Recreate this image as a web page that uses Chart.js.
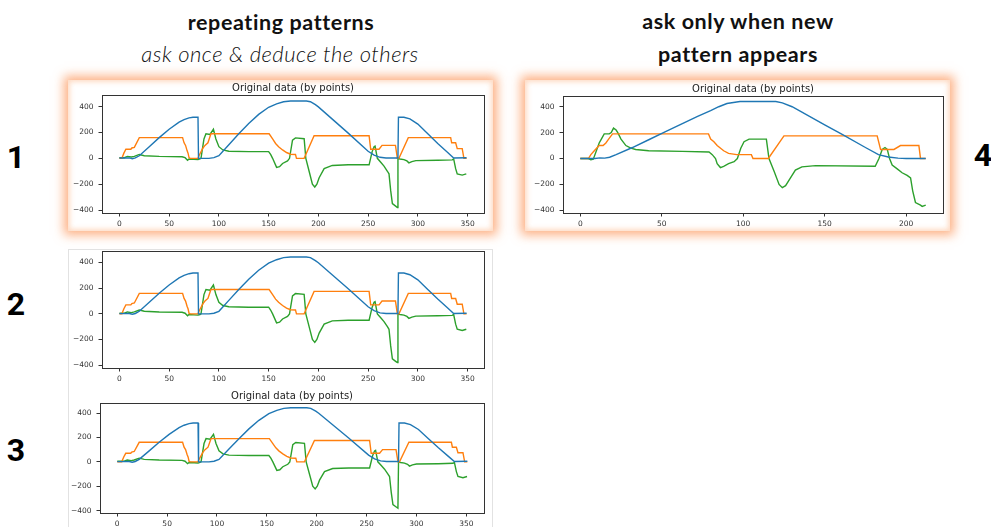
<!DOCTYPE html>
<html>
<head>
<meta charset="utf-8">
<script src="https://cdn.jsdelivr.net/npm/chart.js@4/dist/chart.umd.min.js"></script>
<style>
  html, body { margin: 0; padding: 0; background: #fff; width: 991px; height: 527px; overflow: hidden; position: relative; font-family: Lato, "Open Sans", sans-serif; }
  .h { position: absolute; color: #111; white-space: nowrap; transform: translate(-50%, -50%); line-height: 1; }
  .hb { font-weight: 700; font-size: 21.5px; letter-spacing: 0.6px; }
  .hi { font-weight: 300; font-style: italic; font-size: 22px; letter-spacing: 0.5px; }
  .num { position: absolute; font-family: Roboto, sans-serif; font-weight: 700; font-size: 32px; color: #000; transform: translate(-50%, -50%); line-height: 1; }
  .panel { position: absolute; background: #fff; box-shadow: 0 0 10px 4px rgba(252, 150, 90, 0.75), inset 0 0 5px 2px rgba(252, 175, 125, 0.45); }
  .sheet { position: absolute; border: 1px solid #e2e2e2; border-bottom: none; background: #fff; }
  canvas { position: absolute; }
</style>
</head>
<body>
<div class="h hb" style="left:281px;top:23px">repeating patterns</div>
<div class="h hi" style="left:280px;top:54px">ask once &amp; deduce the others</div>
<div class="h hb" style="left:738px;top:22px">ask only when new</div>
<div class="h hb" style="left:738px;top:55px">pattern appears</div>

<div class="num" style="left:16px;top:157px">1</div>
<div class="num" style="left:16px;top:304px">2</div>
<div class="num" style="left:16px;top:450px">3</div>
<div class="num" style="left:983px;top:155px">4</div>

<div class="panel" style="left:68px;top:80px;width:425px;height:151px"></div>
<div class="panel" style="left:525px;top:80px;width:425px;height:151px"></div>
<div class="sheet" style="left:68px;top:249px;width:423px;height:290px"></div>

<canvas id="c1"></canvas>
<canvas id="c2"></canvas>
<canvas id="c3"></canvas>
<canvas id="c4"></canvas>

<script>
// Recorded pattern A (points vs. value), shared by the repeated runs
const blueA = [[0,2],[10,3],[13,-3],[16,3],[20,20],[30,90],[40,160],[50,225],[60,280],[65,300],[70,313],[74,318],[79,318],[79.5,0],[90,0],[95,5],[100,20],[110,105],[120,190],[130,270],[140,340],[150,395],[158,422],[165,438],[172,443],[188,443],[192,438],[197,415],[200,398],[230,195],[250,55],[256,25],[262,8],[268,3],[280,3],[280.5,318],[286,318],[292,305],[300,265],[310,190],[320,115],[330,45],[336,3],[349,5]];
const orangeA = [[0,0],[2.5,0],[4.5,40],[6.5,70],[11.5,70],[12.5,80],[15,85],[20,160],[63.5,160],[65,120],[66.5,100],[68,60],[69,40],[70,5],[71,0],[79,0],[80,20],[84,80],[86,100],[89,120],[92,190],[150.5,190],[154,150],[157,115],[160,90],[164,65],[168,45],[172,32],[177,30],[178,0],[185.7,0],[195.7,175],[251,175],[252.6,70],[261,70],[264,100],[277.5,100],[279.4,0],[281,0],[290.4,160],[333,160],[334,120],[338,120],[339.6,75],[344.6,75],[346.3,0],[349,0]];
const greenA = [[0,5],[5,5],[8,15],[12,10],[15,15],[20,30],[25,20],[40,15],[63,12],[66,5],[68.5,-15],[70,-5],[75,-8],[79,-10],[81,-5],[82,0],[85,150],[87,190],[91,185],[94.5,225],[97,150],[100,90],[104,65],[110,55],[130,52],[150,52],[152,30],[154,0],[158,-70],[161,-65],[164,-40],[169,-20],[171,0],[174,140],[177,158],[185.7,152],[187.4,0],[190.7,-100],[194,-200],[196.4,-222],[198.5,-200],[200.8,-150],[205.8,-80],[214,-55],[230,-50],[251,-50],[254,50],[256,90],[257,95],[259.3,0],[262.7,-30],[266,-60],[269.4,-100],[271,-120],[272.7,-250],[274.4,-350],[277.7,-370],[279.4,-380],[280,0],[282,-5],[286,-10],[289,-20],[291,-35],[294,-25],[298,-18],[320,-15],[334.6,-12],[336,-5],[338,-80],[339.6,-120],[344.6,-130],[348.7,-120]];

// Recorded pattern B (the new pattern)
const blueB = [[0,0],[9,0],[12,5],[15,3],[18,10],[22,30],[32,85],[42,145],[52,205],[62,265],[72,325],[80,370],[85,400],[90,425],[98,440],[120,440],[124,430],[130,400],[150,260],[161,185],[175,85],[183,30],[189,12],[195,3],[200,0],[212,0]];
const orangeB = [[0,0],[5,0],[6.5,30],[8.6,60],[11.6,100],[14,100],[15.7,120],[17.4,150],[19.8,190],[78.7,190],[80,150],[82,130],[84,100],[88,60],[91,40],[96,30],[105,30],[106,0],[115.4,0],[125,175],[182.2,175],[184.3,70],[192.5,70],[196.5,100],[207.8,100],[208.8,0],[212,0]];
const greenB = [[0,0],[5,0],[6.5,-10],[8,-5],[11.6,120],[12.5,140],[14.7,190],[17.8,190],[19,200],[20.4,235],[22,220],[23,200],[25,150],[28,100],[31,80],[34,70],[42,60],[62.7,55],[79,50],[81,30],[83,0],[84,-40],[86,-70],[88,-60],[91,-40],[94.4,-25],[96.4,0],[98.5,80],[100.5,130],[103.6,150],[114.2,150],[115.8,0],[119,-100],[122,-200],[124,-225],[126,-210],[129,-150],[132,-90],[136,-65],[144.4,-55],[181,-60],[183.3,0],[185.3,70],[187,85],[188.4,70],[189.8,0],[191.4,-50],[194.5,-80],[197.5,-110],[200.6,-130],[202.7,-150],[204,-250],[205.7,-340],[208.8,-360],[209.8,-370],[212,-360]];

// Tick labels
const yTicks = [-400, -200, 0, 200, 400];
const xTicksA = [0, 50, 100, 150, 200, 250, 300, 350];
const xTicksB = [0, 50, 100, 150, 200];

const titleText = 'Original data (by points)';
const lead3 = 2; // the third run starts two points later

const COLORS = ['#1f77b4', '#ff7f0e', '#2ca02c'];
const PAD_L = 44, PAD_T = 18, PAD_R = 10, PAD_B = 18;

const framePlugin = {
  id: 'frame',
  afterDraw(chart, args, opts) {
    const a = chart.chartArea, ctx = chart.ctx;
    ctx.save();
    ctx.strokeStyle = '#333';
    ctx.lineWidth = 1;
    ctx.strokeRect(Math.round(a.left) + 0.5, Math.round(a.top) + 0.5, Math.round(a.right - a.left), Math.round(a.bottom - a.top));
    if (opts.title) {
      ctx.fillStyle = '#222';
      ctx.font = '10px "DejaVu Sans"';
      ctx.textAlign = 'center';
      ctx.textBaseline = 'middle';
      ctx.fillText(opts.title, (a.left + a.right) / 2, a.top - 7);
    }
    ctx.restore();
  }
};

function fmt(v) { return v < 0 ? '\u2212' + Math.abs(v) : String(v); }

function makeChart(id, rect, xr, yr, xt, title, series) {
  const cv = document.getElementById(id);
  const w = Math.round(rect.r - rect.l) + PAD_L + PAD_R;
  const h = Math.round(rect.b - rect.t) + PAD_T + PAD_B;
  cv.width = w; cv.height = h;
  cv.style.left = Math.round(rect.l - PAD_L) + 'px';
  cv.style.top = Math.round(rect.t - PAD_T) + 'px';
  cv.style.width = w + 'px'; cv.style.height = h + 'px';
  const tickFont = { family: 'DejaVu Sans', size: 7.5 };
  new Chart(cv, {
    type: 'line',
    data: {
      datasets: series.map((s, i) => ({
        data: s.map(p => ({ x: p[0], y: p[1] })),
        borderColor: COLORS[i],
        borderWidth: 1.4,
        pointRadius: 0,
        tension: 0,
        fill: false
      }))
    },
    options: {
      responsive: false,
      animation: false,
      devicePixelRatio: 1,
      layout: { padding: { left: 0, top: PAD_T, right: PAD_R, bottom: 0 } },
      plugins: { legend: { display: false }, tooltip: { enabled: false }, frame: { title } },
      scales: {
        x: {
          type: 'linear', min: xr[0], max: xr[1],
          afterFit: s => { s.height = PAD_B; },
          afterBuildTicks: s => { s.ticks = xt.map(v => ({ value: v })); },
          ticks: { font: tickFont, color: '#333', padding: 3, maxRotation: 0, autoSkip: false, callback: fmt },
          grid: { drawOnChartArea: false, drawTicks: true, tickLength: 3.5, color: '#333' },
          border: { color: '#333', width: 1 }
        },
        y: {
          type: 'linear', min: yr[0], max: yr[1],
          afterFit: s => { s.width = PAD_L; },
          afterBuildTicks: s => { s.ticks = yTicks.map(v => ({ value: v })); },
          ticks: { font: tickFont, color: '#333', padding: 5, autoSkip: false, callback: fmt },
          grid: { drawOnChartArea: false, drawTicks: true, tickLength: 3.5, color: '#333' },
          border: { color: '#333', width: 1 }
        }
      }
    },
    plugins: [framePlugin]
  });
}

const shifted = arr => [[0, arr[0][1]]].concat(arr.map(p => [p[0] + lead3, p[1]]));

makeChart('c1', { l: 102, t: 95, r: 484, b: 213 }, [-17.5, 366.5], [-423, 490], xTicksA, titleText, [blueA, orangeA, greenA]);
makeChart('c2', { l: 102, t: 251, r: 484, b: 368 }, [-17.5, 366.5], [-422, 490], xTicksA, null, [blueA, orangeA, greenA]);
makeChart('c3', { l: 100, t: 403, r: 484, b: 513 }, [-17.3, 367.7], [-419, 482], xTicksA, titleText, [shifted(blueA), shifted(orangeA), shifted(greenA)]);
makeChart('c4', { l: 563, t: 96, r: 943, b: 213 }, [-10.6, 222.6], [-421, 483], xTicksB, titleText, [blueB, orangeB, greenB]);
</script>
</body>
</html>
